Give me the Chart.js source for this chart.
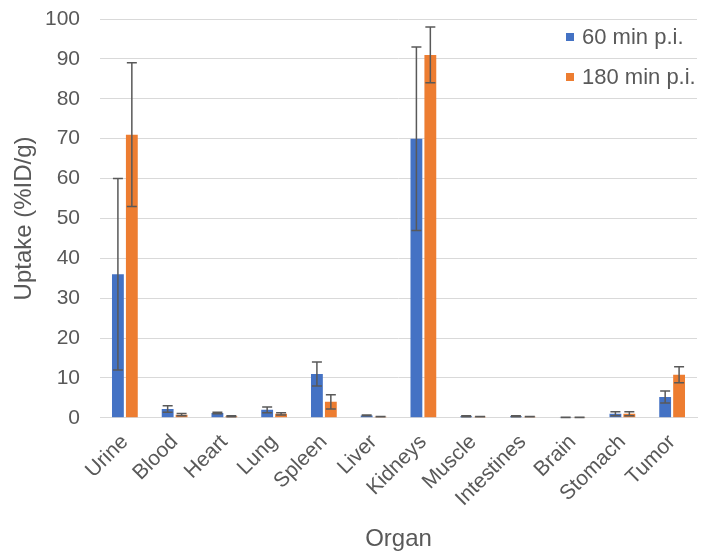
<!DOCTYPE html>
<html>
<head>
<meta charset="utf-8">
<script src="https://cdn.jsdelivr.net/npm/chart.js@4.4.1/dist/chart.umd.min.js"></script>
<style>
  html, body { margin: 0; padding: 0; background: #fff; }
  #wrap { width: 703px; height: 554px; }
</style>
</head>
<body>
<div id="wrap"><canvas id="myChart" width="703" height="554"></canvas></div>
<script>
const organs = ['Urine', 'Blood', 'Heart', 'Lung', 'Spleen', 'Liver', 'Kidneys', 'Muscle', 'Intestines', 'Brain', 'Stomach', 'Tumor'];
const uptake60 = [36, 2.2, 1.2, 2.0, 11, 0.6, 70, 0.4, 0.4, 0.1, 1.0, 5.2];
const err60 = [24, 0.8, 0.2, 0.7, 3, 0.1, 23, 0.1, 0.1, 0.05, 0.5, 1.5];
const uptake180 = [71, 0.8, 0.4, 1.0, 4.0, 0.3, 91, 0.3, 0.3, 0.1, 1.0, 10.8];
const err180 = [18, 0.3, 0.1, 0.3, 1.8, 0.05, 7, 0.05, 0.05, 0.05, 0.5, 2.0];
const yTicks = [0, 10, 20, 30, 40, 50, 60, 70, 80, 90, 100];

const textColor = '#595959';
const fontFamily = '"Liberation Sans", Arial, sans-serif';

// error bars drawn through the y scale
const errorBars = {
  id: 'errorBars',
  afterDatasetsDraw(chart) {
    const ctx = chart.ctx;
    const y = chart.scales.y;
    ctx.save();
    ctx.strokeStyle = '#595959';
    ctx.lineWidth = 1.5;
    chart.data.datasets.forEach((ds, i) => {
      const meta = chart.getDatasetMeta(i);
      meta.data.forEach((bar, j) => {
        const v = ds.data[j], e = ds.errors[j];
        const top = y.getPixelForValue(v + e);
        const bot = y.getPixelForValue(Math.max(0, v - e));
        const cap = 5;
        ctx.beginPath();
        ctx.moveTo(bar.x, top); ctx.lineTo(bar.x, bot);
        ctx.moveTo(bar.x - cap, top); ctx.lineTo(bar.x + cap, top);
        ctx.moveTo(bar.x - cap, bot); ctx.lineTo(bar.x + cap, bot);
        ctx.stroke();
      });
    });
    ctx.restore();
  }
};

// legend inside plot area, top right
const insideLegend = {
  id: 'insideLegend',
  afterDraw(chart) {
    const ctx = chart.ctx;
    const area = chart.chartArea;
    ctx.save();
    ctx.font = '22px ' + fontFamily;
    ctx.textBaseline = 'middle';
    chart.data.datasets.forEach((ds, i) => {
      const cy = area.top + 18 + i * 40;
      const x0 = area.right - 131;
      ctx.fillStyle = ds.backgroundColor;
      ctx.fillRect(x0, cy - 4, 8, 8);
      ctx.fillStyle = textColor;
      ctx.fillText(ds.label, x0 + 16, cy + 1);
    });
    ctx.restore();
  }
};

const ctx = document.getElementById('myChart').getContext('2d');
const myChart = new Chart(ctx, {
  type: 'bar',
  data: {
    labels: organs,
    datasets: [{
      label: '60 min p.i.',
      data: uptake60,
      errors: err60,
      backgroundColor: '#4472C4',
      categoryPercentage: 0.56,
      barPercentage: 0.85
    }, {
      label: '180 min p.i.',
      data: uptake180,
      errors: err180,
      backgroundColor: '#ED7D31',
      categoryPercentage: 0.56,
      barPercentage: 0.85
    }]
  },
  options: {
    responsive: false,
    animation: false,
    layout: { padding: { top: 19, right: 6, left: 8, bottom: 0 } },
    plugins: {
      legend: { display: false },
      tooltip: { enabled: false }
    },
    scales: {
      x: {
        afterFit(axis) { axis.paddingLeft = 0; axis.paddingRight = 0; },
        grid: { display: false, drawTicks: false },
        border: { color: '#d9d9d9', width: 1 },
        ticks: {
          color: textColor,
          font: { size: 21, family: fontFamily },
          maxRotation: 45,
          minRotation: 45,
          padding: 12
        },
        title: {
          display: true,
          text: 'Organ',
          color: textColor,
          font: { size: 24, family: fontFamily },
          padding: { top: 2, bottom: 0 }
        }
      },
      y: {
        min: 0,
        max: 100,
        afterBuildTicks(axis) { axis.ticks = yTicks.map(v => ({ value: v })); },
        afterFit(axis) { axis.paddingTop = 0; axis.paddingBottom = 0; axis.width = 92; },
        grid: { color: '#d9d9d9', lineWidth: 1, drawTicks: false },
        border: { display: false },
        ticks: {
          color: textColor,
          font: { size: 21, family: fontFamily },
          padding: 20
        },
        title: {
          display: true,
          text: 'Uptake (%ID/g)',
          color: textColor,
          font: { size: 24, family: fontFamily },
          padding: { top: 2, bottom: 6 }
        }
      }
    }
  },
  plugins: [errorBars, insideLegend]
});
</script>
</body>
</html>
